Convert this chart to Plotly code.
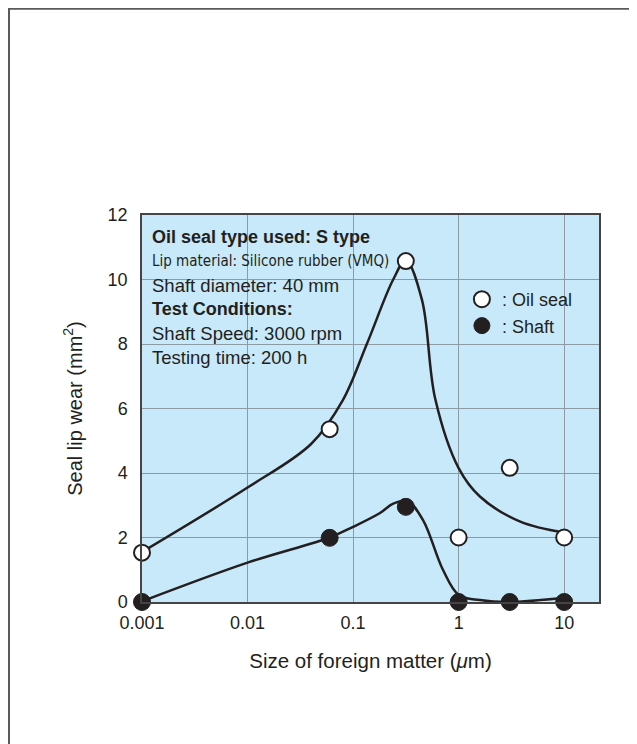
import plotly.graph_objects as go

# measured points
size_x = [0.001, 0.06, 0.316, 1, 3.05, 10]
oil_seal = [1.53, 5.36, 10.57, 2.0, 4.16, 2.0]
shaft = [0, 1.99, 2.95, 0, 0, 0]

# trend curves
oil_curve_x = [0.001, 0.01, 0.04, 0.08, 0.135, 0.24, 0.316, 0.45, 0.6, 1, 1.59, 3.84, 10]
oil_curve_y = [1.55, 3.55, 4.9, 6.26, 8.0, 10.0, 10.6, 9.36, 6.3, 4.15, 3.27, 2.49, 2.15]
shaft_curve_x = [0.001, 0.01, 0.06, 0.1, 0.18, 0.24, 0.33, 0.46, 0.71, 1, 1.59, 3.05, 10]
shaft_curve_y = [0.02, 1.22, 2.0, 2.33, 2.76, 3.05, 3.12, 2.54, 1.0, 0.22, 0.06, 0.0, 0.13]

ytick_vals = [0, 2, 4, 6, 8, 10, 12]
xtick_vals = [0.001, 0.01, 0.1, 1, 10]
xtick_text = ["0.001", "0.01", "0.1", "1", "10"]

info_lines = [
    ("<b>Oil seal type used: S type</b>", "Liberation Sans", 18),
    ("Lip material: Silicone rubber (VMQ)", "Liberation Sans Narrow, DejaVu Sans Condensed", 15),
    ("Shaft diameter: 40 mm", "Liberation Sans", 18.5),
    ("<b>Test Conditions:</b>", "Liberation Sans", 18),
    ("Shaft Speed: 3000 rpm", "Liberation Sans", 18.5),
    ("Testing time: 200 h", "Liberation Sans", 18.5),
]

ink = "#231f20"
fig = go.Figure()

fig.add_trace(go.Scatter(x=oil_curve_x, y=oil_curve_y, mode="lines",
                         line=dict(color=ink, width=2.5, shape="spline", smoothing=1.0),
                         showlegend=False, hoverinfo="skip"))
fig.add_trace(go.Scatter(x=shaft_curve_x, y=shaft_curve_y, mode="lines",
                         line=dict(color=ink, width=2.5, shape="spline", smoothing=1.0),
                         showlegend=False, hoverinfo="skip"))
fig.add_trace(go.Scatter(x=size_x, y=oil_seal, mode="markers", name=": Oil seal",
                         marker=dict(size=16, color="white", line=dict(color=ink, width=2)),
                         cliponaxis=False))
fig.add_trace(go.Scatter(x=size_x, y=shaft, mode="markers", name=": Shaft",
                         marker=dict(size=17, color=ink, line=dict(color=ink, width=1)),
                         cliponaxis=False))

# info block in the upper left of the plot
for i, (txt, fam, sz) in enumerate(info_lines):
    fig.add_annotation(xref="paper", yref="paper", x=0.018, y=0.943 - i * 0.062,
                       text=txt, showarrow=False, xanchor="left", yanchor="middle",
                       font=dict(family=fam, size=sz, color=ink))

# outer frame (top and left edge)
fig.add_shape(type="line", xref="paper", yref="paper", x0=-0.293, x1=1.1, y0=1.533, y1=1.533,
              line=dict(color="#5a5a5a", width=2))
fig.add_shape(type="line", xref="paper", yref="paper", x0=-0.291, x1=-0.291, y0=1.535, y1=-0.4,
              line=dict(color="#5a5a5a", width=2))

fig.update_xaxes(type="log", range=[-3, 1.33], tickvals=xtick_vals, ticktext=xtick_text,
                 showgrid=True, gridcolor="#8c9aa3", gridwidth=1,
                 showline=True, linecolor="#444444", linewidth=1.5, mirror=True,
                 ticks="", ticklabelstandoff=4,
                 tickfont=dict(family="Liberation Sans", size=18, color=ink),
                 title=dict(text="Size of foreign matter (<i>μ</i>m)", standoff=21,
                            font=dict(family="Liberation Sans", size=20.5, color=ink)),
                 zeroline=False)
fig.update_yaxes(range=[0, 12], tickvals=ytick_vals,
                 showgrid=True, gridcolor="#8c9aa3", gridwidth=1,
                 showline=True, linecolor="#444444", linewidth=1.5, mirror=True,
                 ticks="", ticklabelstandoff=9,
                 tickfont=dict(family="Liberation Sans", size=18, color=ink),
                 title=dict(text="Seal lip wear (mm<sup>2</sup>)", standoff=20,
                            font=dict(family="Liberation Sans", size=20, color=ink)),
                 zeroline=False)

fig.update_layout(
    width=629, height=736,
    margin=dict(l=134, r=38, t=207, b=142),
    plot_bgcolor="#c8e9f9", paper_bgcolor="white",
    legend=dict(x=0.7, y=0.748, xanchor="left", yanchor="middle", bgcolor="rgba(0,0,0,0)",
                font=dict(family="Liberation Sans", size=18, color=ink),
                itemwidth=30, tracegroupgap=0),
    showlegend=True,
)

fig.write_html("out.html")
